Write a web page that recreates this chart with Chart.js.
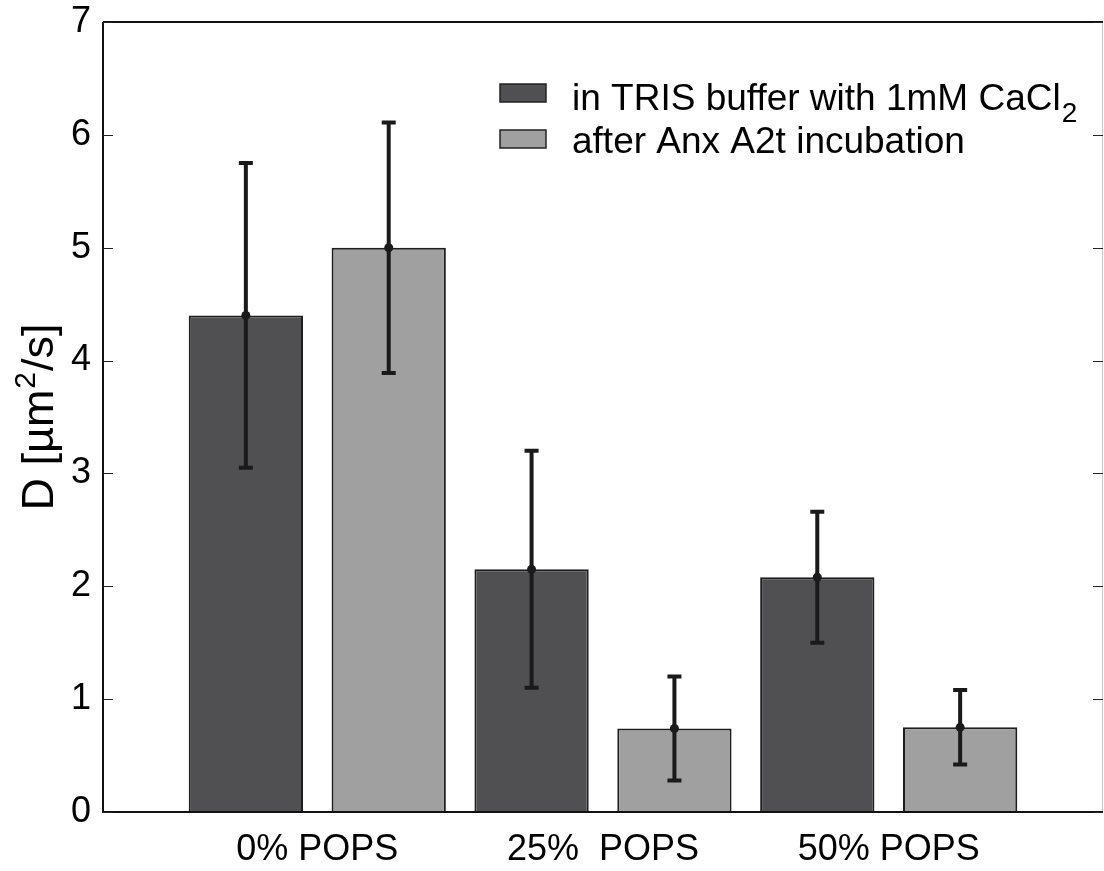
<!DOCTYPE html>
<html>
<head>
<meta charset="utf-8">
<script src="https://cdn.jsdelivr.net/npm/chart.js@4.4.1/dist/chart.umd.min.js"></script>
<style>
  html, body { margin: 0; padding: 0; background: #fff; }
  #chart { display: block; }
</style>
</head>
<body>
<canvas id="chart" width="1104" height="871"></canvas>
<script>
// categorias e valores
const categories = ['0% POPS', '25%  POPS', '50% POPS'];
const trisMean = [4.40, 2.15, 2.08];
const trisErr = [1.35, 1.05, 0.58];
const anxMean = [5.00, 0.74, 0.75];
const anxErr = [1.11, 0.46, 0.33];
const yTicks = [0, 1, 2, 3, 4, 5, 6, 7];

const seriesLabels = ['in TRIS buffer with 1mM CaCl', 'after Anx A2t incubation'];
const seriesSub = ['2', ''];
const seriesColors = ['#505052', '#a0a0a0'];
const errLists = [trisErr, anxErr];

const FONT = '"Liberation Sans", Arial, Helvetica, sans-serif';

// desenha eixos, marcas internas, barras de erro, título do eixo y e legenda
const decorPlugin = {
    id: 'decor',
    afterDatasetsDraw(chart) {
        const ctx = chart.ctx;
        const area = chart.chartArea;
        const yScale = chart.scales.y;

        // barras de erro
        chart.data.datasets.forEach((ds, d) => {
            const meta = chart.getDatasetMeta(d);
            meta.data.forEach((bar, i) => {
                const v = ds.data[i].y;
                const e = errLists[d][i];
                const x = bar.x;
                const yTop = yScale.getPixelForValue(v + e);
                const yBot = yScale.getPixelForValue(v - e);
                const yMid = yScale.getPixelForValue(v);
                ctx.save();
                ctx.strokeStyle = '#1a1a1a';
                ctx.lineWidth = 4;
                ctx.beginPath();
                ctx.moveTo(x, yTop);
                ctx.lineTo(x, yBot);
                ctx.moveTo(x - 7, yTop);
                ctx.lineTo(x + 7, yTop);
                ctx.moveTo(x - 7, yBot);
                ctx.lineTo(x + 7, yBot);
                ctx.stroke();
                ctx.fillStyle = '#1a1a1a';
                ctx.beginPath();
                ctx.arc(x, yMid, 4.5, 0, Math.PI * 2);
                ctx.fill();
                ctx.restore();
            });
        });

        ctx.save();
        // borda direita (cinza claro)
        ctx.strokeStyle = '#c8c8c8';
        ctx.lineWidth = 1;
        ctx.beginPath();
        ctx.moveTo(area.right - 0.5, area.top);
        ctx.lineTo(area.right - 0.5, area.bottom);
        ctx.stroke();

        // eixos esquerdo, inferior e superior
        ctx.strokeStyle = '#111';
        ctx.lineWidth = 2;
        ctx.beginPath();
        ctx.moveTo(area.left, area.top);
        ctx.lineTo(area.left, area.bottom);
        ctx.lineTo(area.right, area.bottom);
        ctx.moveTo(area.left, area.top);
        ctx.lineTo(area.right, area.top);
        ctx.stroke();

        // marcas internas dos ticks
        ctx.lineWidth = 1;
        ctx.strokeStyle = '#222';
        ctx.beginPath();
        yTicks.forEach(t => {
            const y = Math.round(yScale.getPixelForValue(t)) + 0.5;
            ctx.moveTo(area.left, y);
            ctx.lineTo(area.left + 10, y);
            ctx.moveTo(area.right, y);
            ctx.lineTo(area.right - 10, y);
        });
        ctx.stroke();

        // título do eixo y com expoente
        ctx.save();
        ctx.translate(53, (area.top + area.bottom) / 2);
        ctx.rotate(-Math.PI / 2);
        ctx.fillStyle = '#000';
        ctx.textBaseline = 'alphabetic';
        ctx.textAlign = 'left';
        const p1 = 'D [µm', p2 = '2', p3 = '/s]';
        ctx.font = '45px ' + FONT;
        const w1 = ctx.measureText(p1).width;
        const w3 = ctx.measureText(p3).width;
        ctx.font = '30px ' + FONT;
        const w2 = ctx.measureText(p2).width;
        let x0 = -(w1 + w2 + w3 + 2) / 2;
        ctx.font = '45px ' + FONT;
        ctx.fillText(p1, x0, 0);
        ctx.font = '30px ' + FONT;
        ctx.fillText(p2, x0 + w1 + 1, -18);
        ctx.font = '45px ' + FONT;
        ctx.fillText(p3, x0 + w1 + w2 + 2, 0);
        ctx.restore();

        // legenda
        const lx = area.left + 397;
        const boxY = [area.top + 71, area.top + 117];
        const textY = [area.top + 88, area.top + 131];
        seriesLabels.forEach((label, d) => {
            ctx.fillStyle = seriesColors[d];
            ctx.strokeStyle = '#222';
            ctx.lineWidth = 1.5;
            ctx.fillRect(lx, boxY[d] - 9, 46, 18);
            ctx.strokeRect(lx, boxY[d] - 9, 46, 18);
            ctx.fillStyle = '#000';
            ctx.font = '37px ' + FONT;
            ctx.textBaseline = 'alphabetic';
            ctx.textAlign = 'left';
            ctx.fillText(label, lx + 72, textY[d]);
            if (seriesSub[d]) {
                const w = ctx.measureText(label).width;
                ctx.font = '28px ' + FONT;
                ctx.fillText(seriesSub[d], lx + 72 + w + 1, textY[d] + 12);
            }
        });
        ctx.restore();
    }
};

const ctx = document.getElementById('chart').getContext('2d');
new Chart(ctx, {
    type: 'bar',
    data: {
        datasets: [
            {
                label: seriesLabels[0],
                data: trisMean.map((v, i) => ({ x: i + 1, y: v })),
                backgroundColor: seriesColors[0],
                borderColor: '#1e1e1e',
                borderWidth: 2,
            },
            {
                label: seriesLabels[1],
                data: anxMean.map((v, i) => ({ x: i + 1, y: v })),
                backgroundColor: seriesColors[1],
                borderColor: '#1e1e1e',
                borderWidth: 2,
            },
        ],
    },
    options: {
        responsive: false,
        animation: false,
        categoryPercentage: 1.0,
        barPercentage: 0.8,
        layout: { padding: { top: 22, right: 1, left: 0, bottom: 0 } },
        plugins: {
            legend: { display: false },
            tooltip: { enabled: false },
        },
        scales: {
            x: {
                type: 'linear',
                min: 0.25,
                max: 3.75,
                offset: false,
                bounds: 'data',
                grid: { display: false, drawTicks: false, offset: false },
                border: { display: false },
                afterBuildTicks: s => { s.ticks = categories.map((c, i) => ({ value: i + 1 })); },
                afterFit: s => {
                    s.height = 59;
                    s.paddingLeft = 0;
                    s.paddingRight = 0;
                },
                ticks: {
                    autoSkip: false,
                    maxRotation: 0,
                    padding: 16,
                    color: '#000',
                    font: { family: FONT, size: 36 },
                    callback: v => categories[Math.round(v) - 1],
                },
            },
            y: {
                min: 0,
                max: 7,
                grid: { display: false, drawTicks: false },
                border: { display: false },
                afterFit: s => {
                    s.width = 103;
                    s.paddingTop = 0;
                    s.paddingBottom = 0;
                },
                ticks: {
                    stepSize: 1,
                    padding: 12,
                    color: '#000',
                    font: { family: FONT, size: 36 },
                },
            },
        },
    },
    plugins: [decorPlugin],
});
</script>
</body>
</html>
